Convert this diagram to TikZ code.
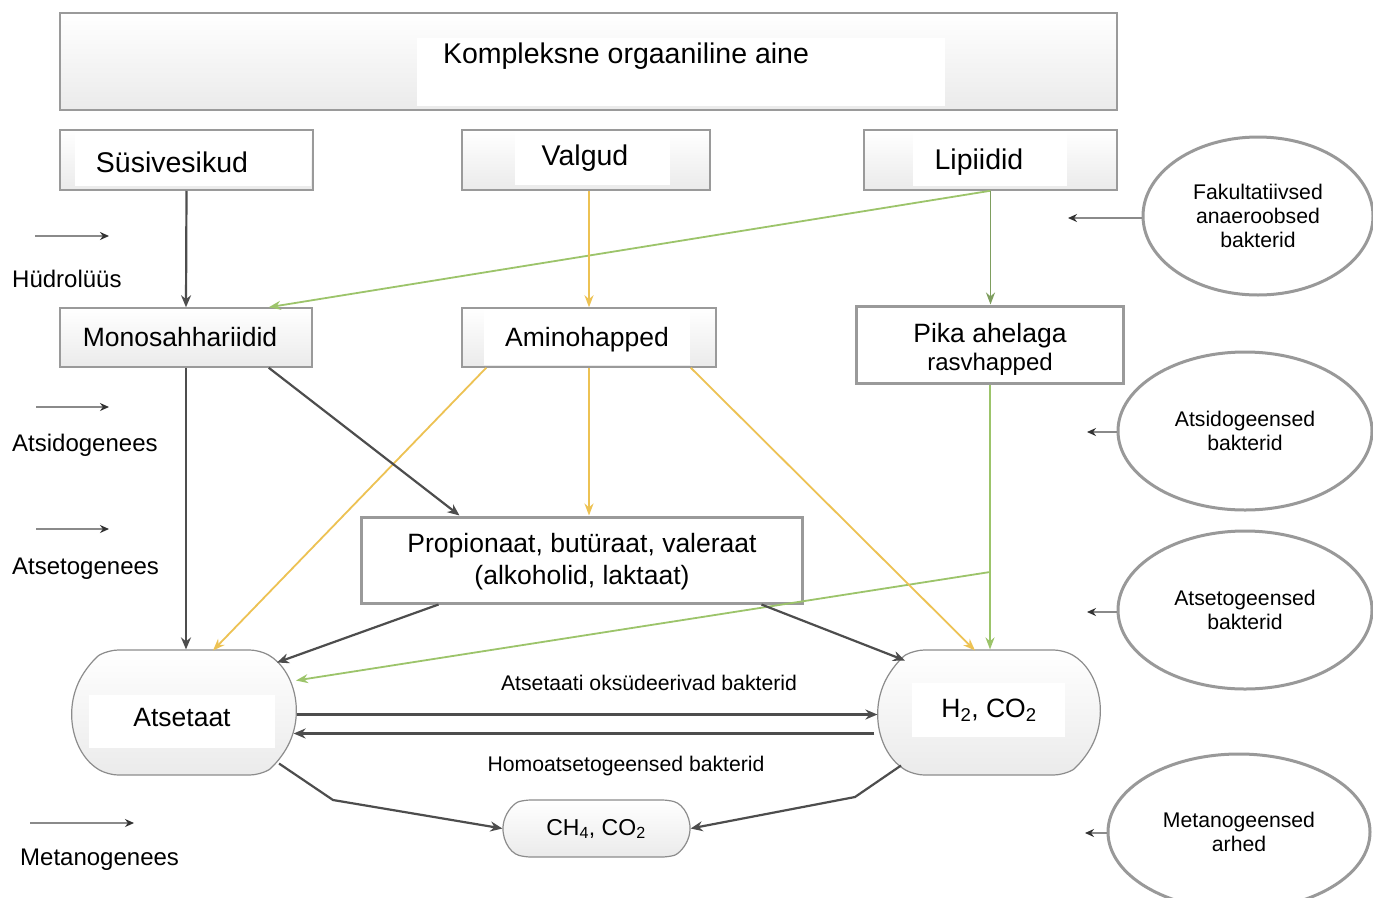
\documentclass[tikz,border=0pt]{standalone}
\usepackage{fontspec}
\setmainfont{Liberation Sans}
\usetikzlibrary{shapes.misc,shapes.geometric,arrows.meta,calc}
\definecolor{bordergray}{HTML}{9A9A9A}
\definecolor{darkline}{HTML}{4D4D4D}
\definecolor{yell}{HTML}{EDC253}
\definecolor{grn}{HTML}{9CC46A}
\definecolor{olivegrn}{HTML}{7E9E5E}
\definecolor{leggray}{HTML}{8A8A8A}
\newcommand{\fA}{\fontsize{28.5}{32}\selectfont}
\newcommand{\fB}{\fontsize{26.5}{32}\selectfont}
\newcommand{\fC}{\fontsize{24}{28}\selectfont}
\newcommand{\fD}{\fontsize{23}{26}\selectfont}
\newcommand{\fE}{\fontsize{21.2}{24}\selectfont}
\begin{document}
\begin{tikzpicture}[x=1pt,y=-1pt,
  box/.style={draw=bordergray, line width=1.5pt, top color=white, bottom color=black!8, inner sep=0pt},
  tbox/.style={draw=bordergray, line width=3pt, fill=white, inner sep=0pt, align=center},
  pill/.style={rounded rectangle, rounded rectangle arc length=120, rounded corners=10pt, draw=black!45, line width=1.2pt, top color=white, bottom color=black!8, inner sep=0pt},
  lab/.style={inner sep=0pt, text=black},
  ell/.style={ellipse, draw=black!40, line width=3pt, inner sep=0pt, align=center, font=\fE},
  dk/.style={draw=darkline, line width=2.2pt, -{Stealth[length=12pt,width=10pt]}},
  yl/.style={draw=yell, line width=1.8pt, -{Stealth[length=12pt,width=9pt]}},
  gr/.style={draw=grn, line width=1.8pt, -{Stealth[length=12pt,width=9pt]}},
  og/.style={draw=olivegrn, line width=1.8pt, -{Stealth[length=12pt,width=9pt]}},
  leg/.style={draw=leggray, line width=1.8pt, -{Stealth[length=9pt,width=8pt,color=black!80]}}
]
\useasboundingbox (0,0) rectangle (1373,897);
\fill[white] (0,0) rectangle (1373,897);

% boxes
\node[box, minimum width=1057pt, minimum height=97pt] (top) at (588.5,61.5) {};
\node[box, minimum width=253pt, minimum height=60pt] (sus) at (186.5,160) {};
\node[box, minimum width=248pt, minimum height=60pt] (val) at (586,160) {};
\node[box, minimum width=253pt, minimum height=60pt] (lip) at (990.5,160) {};
\node[box, minimum width=252pt, minimum height=59pt] (mono) at (186,337.5) {};
\node[box, minimum width=254pt, minimum height=59pt] (amino) at (589,337.5) {};
\node[tbox, minimum width=267pt, minimum height=77pt] (pika) at (990,344.5) {};
\node[tbox, minimum width=441pt, minimum height=86pt] (prop) at (581.5,560) {};
\node[pill, minimum width=224pt, minimum height=125pt] (ats) at (184,712.5) {};
\node[pill, minimum width=222pt, minimum height=125pt] (h2) at (989,712.5) {};
\node[pill, rounded rectangle arc length=150, rounded corners=6pt, minimum width=187pt, minimum height=57pt] (ch4) at (596.5,828.5) {};

% white patches behind texts
\fill[white] (417,38) rectangle (945,106);
\fill[white] (75,133) rectangle (311,186);
\fill[white] (515,131) rectangle (670,185);
\fill[white] (913,131) rectangle (1067,186);
\fill[white] (484,310) rectangle (690,365);
\fill[white] (89,695) rectangle (275,748);
\fill[white] (912,683) rectangle (1065,737);

% texts
\node[lab, font=\fA] (topt) at (626,56) {Kompleksne orgaaniline aine};
\node[lab, font=\fA] (sust) at (172,162) {Süsivesikud};
\node[lab, font=\fA] (valt) at (585,158) {Valgud};
\node[lab, font=\fA] (lipt) at (979,162) {Lipiidid};
\node[lab, font=\fB] (monot) at (180,337) {Monosahhariidid};
\node[lab, font=\fB] (aminot) at (587,340) {Aminohapped};
\node[lab, font=\fB] (pikat1) at (990,336) {Pika ahelaga};
\node[lab, font=\fC] (pikat2) at (990,364) {rasvhapped};
\node[lab, font=\fB] (propt1) at (582,546) {Propionaat, butüraat, valeraat};
\node[lab, font=\fB] (propt2) at (582,578) {(alkoholid, laktaat)};
\node[lab, font=\fB] (atst) at (182,718) {Atsetaat};
\node[lab, font=\fB] (h2t) at (989,710) {H\textsubscript{2}, CO\textsubscript{2}};
\node[lab, font=\fD] (ch4t) at (596,829) {CH\textsubscript{4}, CO\textsubscript{2}};
\node[lab, font=\fE] (oks) at (649,683) {Atsetaati oksüdeerivad bakterid};
\node[lab, font=\fE] (homo) at (626,766) {Homoatsetogeensed bakterid};

% legend
\node[lab, font=\fC, anchor=west] (hyd) at (12,279) {Hüdrolüüs};
\node[lab, font=\fC, anchor=west] (acid) at (12,445) {Atsidogenees};
\node[lab, font=\fC, anchor=west] (acet) at (12,569) {Atsetogenees};
\node[lab, font=\fC, anchor=west] (meth) at (20,860) {Metanogenees};
\coordinate (l1a) at (35,236); \coordinate (l1b) at (109,236);
\coordinate (l2a) at (36,407); \coordinate (l2b) at (109,407);
\coordinate (l3a) at (36,529); \coordinate (l3b) at (109,529);
\coordinate (l4a) at (30,823); \coordinate (l4b) at (134,823);
\draw[leg] (l1a) -- (l1b);
\draw[leg] (l2a) -- (l2b);
\draw[leg] (l3a) -- (l3b);
\draw[leg] (l4a) -- (l4b);

% ellipses
\node[ell, minimum width=230pt, minimum height=158pt] (fak) at (1258,216) {Fakultatiivsed\\anaeroobsed\\bakterid};
\node[ell, minimum width=254pt, minimum height=158pt] (atsid) at (1245,431) {Atsidogeensed\\bakterid};
\node[ell, minimum width=254pt, minimum height=158pt] (atset) at (1245,610) {Atsetogeensed\\bakterid};
\node[ell, minimum width=262pt, minimum height=156pt] (metan) at (1239,832) {Metanogeensed\\arhed};
\coordinate (e1) at (1068,218);
\coordinate (e2) at (1087,432);
\coordinate (e3) at (1087,612);
\coordinate (e4) at (1085,833);
\draw[leg] (fak.west |- e1) -- (e1);
\draw[leg] (atsid.west |- e2) -- (e2);
\draw[leg] (atset.west |- e3) -- (e3);
\draw[leg] (metan.west |- e4) -- (e4);

% green / olive connectors
\draw[gr] (lip.south) -- ([xshift=-44pt]mono.north east);
\draw[og] (lip.south) -- (lip.south |- pika.north);
\draw[gr] (pika.south) -- (pika.south |- h2.north);
\coordinate (branch) at (990,572);
\draw[gr] (branch) -- ($(ats.center)+(112,-32)$);

% yellow connectors
\draw[yl] (val.south -| amino.south) -- (amino.north);
\draw[yl] ([xshift=25pt]amino.south west) -- ($(ats.center)+(29,-62)$);
\draw[yl] (amino.south) -- (amino.south |- prop.north);
\draw[yl] ([xshift=-26pt]amino.south east) -- ($(h2.center)+(-14,-62)$);

% dark connectors
\draw[dk] (sus.south) -- (mono.north);
\draw[dk] (mono.south) -- (mono.south |- ats.north);
\draw[dk] ([xshift=-44pt]mono.south east) -- ([xshift=100pt]prop.north west);
\draw[dk] ([xshift=79pt]prop.south west) -- ($(ats.center)+(93,-50)$);
\draw[dk] ([xshift=-42pt]prop.south east) -- ($(h2.center)+(-84,-52)$);
\draw[dk] ($(ats.east)+(0,2)$) -- ($(h2.west)+(0,2)$);
\draw[dk] ($(h2.west)+(-3,21)$) -- ($(ats.east)+(-3,21)$);
\draw[dk] ($(ats.center)+(95,51)$) -- (333,800) -- (ch4.west);
\draw[dk] ($(h2.center)+(-88,53)$) -- (855,797) -- (ch4.east);
\end{tikzpicture}
\end{document}
